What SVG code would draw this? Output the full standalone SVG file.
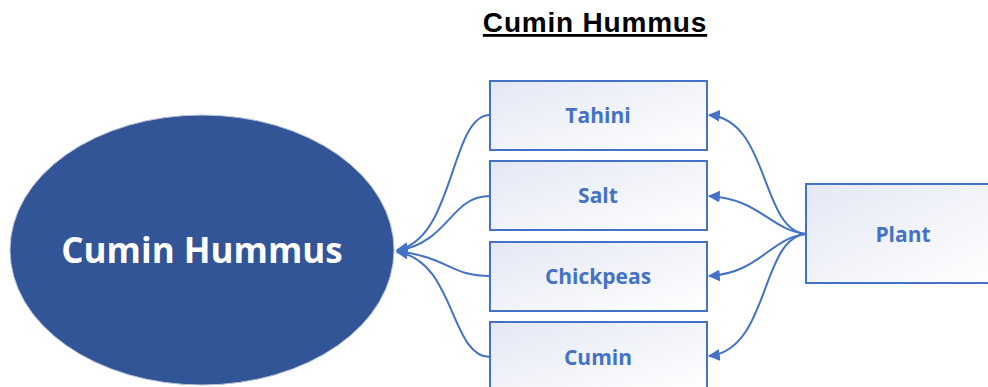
<svg xmlns="http://www.w3.org/2000/svg" width="988" height="387" viewBox="0 0 988 387">
<defs>
<linearGradient id="bg" x1="0" y1="0" x2="1" y2="1">
<stop offset="0" stop-color="#E4E8F4"/>
<stop offset="1" stop-color="#FFFFFF"/>
</linearGradient>
<marker id="ah" viewBox="0 0 10 10" refX="9" refY="5" markerWidth="6" markerHeight="6" orient="auto" markerUnits="strokeWidth">
<path d="M0,0 L10,5 L0,10 z" fill="#4472C4"/>
</marker>
<style>
.box{fill:url(#bg);stroke:#4472C4;stroke-width:2}
.lbl{font-family:"Open Sans","Liberation Sans",sans-serif;font-weight:bold;font-size:21px;fill:#4472C4;text-anchor:middle}
.con{fill:none;stroke:#4472C4;stroke-width:2;marker-end:url(#ah)}
</style>
</defs>
<rect width="988" height="387" fill="#FFFFFF"/>
<text x="595" y="32" font-family="'Liberation Sans',sans-serif" font-weight="bold" font-size="28" letter-spacing="0.8" text-anchor="middle" text-decoration="underline" fill="#000">Cumin Hummus</text>
<g id="connectors">
<path class="con" d="M490,115 C450,115 455,240 397,250"/>
<path class="con" d="M490,196 C450,196 450,242 397,251"/>
<path class="con" d="M490,276 C450,276 450,258 397,251"/>
<path class="con" d="M490,357 C450,357 455,260 397,252"/>
<path class="con" d="M806,234 C760,230 770,120 709,115"/>
<path class="con" d="M806,234 C770,230 760,199 709,196"/>
<path class="con" d="M806,234 C770,238 760,273 709,276"/>
<path class="con" d="M806,234 C760,238 770,350 709,356"/>
</g>
<g id="cumin-hummus">
<ellipse cx="202" cy="250" rx="192" ry="135" fill="#325597" stroke="#B8C4DA" stroke-width="1"/>
<text x="202" y="263" font-family="'Open Sans','Liberation Sans',sans-serif" font-weight="bold" font-size="35" fill="#FFFFFF" text-anchor="middle">Cumin Hummus</text>
</g>
<g id="tahini"><rect class="box" x="490" y="81" width="217" height="69"/><text class="lbl" x="598" y="123">Tahini</text></g>
<g id="salt"><rect class="box" x="490" y="161" width="217" height="69"/><text class="lbl" x="598" y="203">Salt</text></g>
<g id="chickpeas"><rect class="box" x="490" y="242" width="217" height="69"/><text class="lbl" x="598" y="284">Chickpeas</text></g>
<g id="cumin"><rect class="box" x="490" y="322" width="217" height="69"/><text class="lbl" x="598" y="365">Cumin</text></g>
<g id="plant"><rect class="box" x="806" y="184" width="190" height="99"/><text class="lbl" x="903" y="242">Plant</text></g>
</svg>
